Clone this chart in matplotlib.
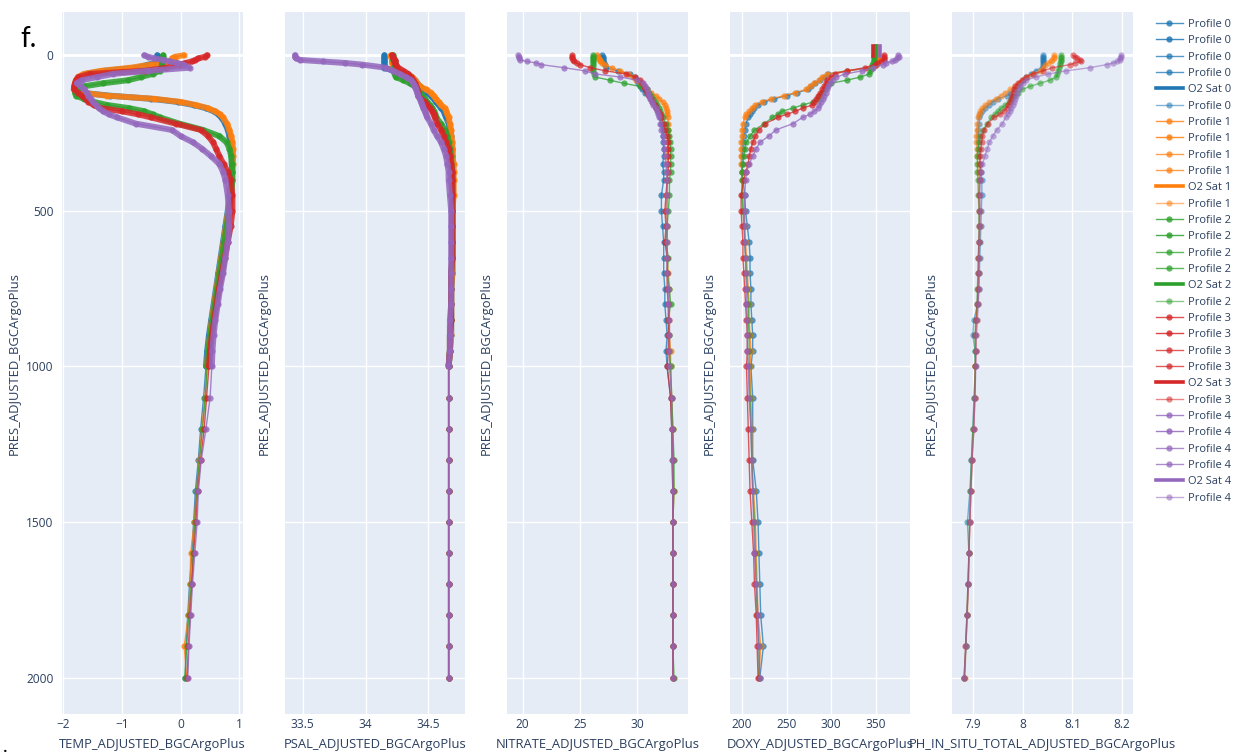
import numpy as np
import matplotlib.pyplot as plt

plt.rcParams['font.family'] = ['Open Sans', 'DejaVu Sans']

# pressure levels (dbar) shared by the five float profiles
pres = [0, 5, 10, 15, 20, 25, 30, 40, 50, 60, 70, 80, 90, 100, 110, 120, 130, 140, 150, 160, 170, 180, 190, 200,
        220, 240, 260, 280, 300, 325, 350, 375, 400,
        450, 500, 550, 600, 650, 700, 750, 800, 850, 900, 950, 1000,
        1100, 1200, 1300, 1400, 1500, 1600, 1700, 1800, 1900, 2000]

# temperature
temp0 = [-0.40, -0.37, -0.37, -0.37, -0.38, -0.45, -0.55, -0.75, -1.30, -1.62, -1.72, -1.76, -1.78, -1.80, -1.80, -1.72, -1.20, -0.50, -0.05, 0.22, 0.43, 0.56, 0.64, 0.69,
         0.76, 0.80, 0.83, 0.85, 0.86, 0.87, 0.87, 0.87, 0.86,
         0.84, 0.80, 0.76, 0.72, 0.68, 0.64, 0.60, 0.56, 0.52, 0.48, 0.45, 0.43,
         0.39, 0.34, 0.30, 0.25, 0.22, 0.19, 0.15, 0.12, 0.09, 0.08]
temp1 = [0.05, -0.10, -0.15, -0.10, -0.20, -0.35, -0.50, -0.85, -1.35, -1.65, -1.75, -1.78, -1.80, -1.81, -1.80, -1.70, -1.25, -0.45, 0.00, 0.26, 0.46, 0.59, 0.67, 0.72,
         0.79, 0.83, 0.86, 0.88, 0.89, 0.89, 0.89, 0.88, 0.87,
         0.85, 0.81, 0.77, 0.73, 0.69, 0.65, 0.61, 0.57, 0.53, 0.50, 0.47, 0.45,
         0.41, 0.36, 0.31, 0.27, 0.23, 0.17, 0.16, 0.13, 0.06, 0.10]
temp2 = [-0.30, -0.30, -0.30, -0.30, -0.31, -0.32, -0.32, -0.33, -0.36, -0.48, -0.68, -0.89, -1.32, -1.65, -1.77, -1.80, -1.78, -1.65, -1.48, -1.25, -0.88, -0.62, -0.48, -0.35,
         -0.02, 0.38, 0.66, 0.78, 0.83, 0.86, 0.87, 0.88, 0.88,
         0.86, 0.82, 0.78, 0.74, 0.70, 0.66, 0.62, 0.58, 0.54, 0.50, 0.47, 0.45,
         0.42, 0.37, 0.32, 0.27, 0.24, 0.21, 0.18, 0.14, 0.10, 0.07]
temp3 = [0.45, 0.41, 0.30, 0.25, 0.19, 0.08, -0.02, -0.25, -0.60, -1.55, -1.74, -1.78, -1.80, -1.81, -1.82, -1.75, -1.68, -1.62, -1.57, -1.48, -1.36, -1.00, -0.72, -0.50,
         -0.08, 0.34, 0.47, 0.55, 0.60, 0.66, 0.73, 0.80, 0.85,
         0.88, 0.88, 0.85, 0.80, 0.75, 0.70, 0.65, 0.61, 0.57, 0.53, 0.50, 0.48,
         0.44, 0.40, 0.34, 0.29, 0.26, 0.22, 0.19, 0.16, 0.13, 0.11]
temp4 = [-0.62, -0.55, -0.45, -0.30, -0.18, -0.06, 0.05, 0.15, -0.55, -1.15, -1.42, -1.68, -1.77, -1.70, -1.64, -1.60, -1.57, -1.53, -1.49, -1.44, -1.39, -1.32, -1.22, -1.08,
         -0.76, -0.15, 0.00, 0.21, 0.36, 0.52, 0.66, 0.72, 0.76,
         0.80, 0.82, 0.82, 0.80, 0.76, 0.72, 0.67, 0.63, 0.59, 0.56, 0.54, 0.53,
         0.50, 0.43, 0.35, 0.30, 0.28, 0.24, 0.20, 0.17, 0.14, 0.12]

# salinity
psal0 = [34.15, 34.15, 34.15, 34.15, 34.15, 34.15, 34.15, 34.15, 34.22, 34.33, 34.37, 34.39, 34.41, 34.43, 34.46, 34.49, 34.52, 34.54, 34.56, 34.58, 34.60, 34.62, 34.63, 34.64,
         34.66, 34.67, 34.68, 34.68, 34.69, 34.69, 34.69, 34.69, 34.69,
         34.69, 34.69, 34.69, 34.69, 34.69, 34.69, 34.68, 34.68, 34.68, 34.68, 34.67, 34.66,
         34.66, 34.66, 34.66, 34.66, 34.66, 34.66, 34.66, 34.66, 34.66, 34.66]
psal1 = [34.20, 34.20, 34.21, 34.21, 34.21, 34.21, 34.22, 34.22, 34.24, 34.33, 34.37, 34.39, 34.41, 34.43, 34.48, 34.52, 34.54, 34.56, 34.58, 34.60, 34.63, 34.64, 34.65, 34.66,
         34.67, 34.68, 34.68, 34.69, 34.69, 34.69, 34.70, 34.70, 34.70,
         34.70, 34.69, 34.69, 34.69, 34.69, 34.69, 34.68, 34.68, 34.68, 34.68, 34.67, 34.66,
         34.66, 34.66, 34.66, 34.66, 34.66, 34.66, 34.66, 34.66, 34.66, 34.66]
psal2 = [34.22, 34.22, 34.22, 34.22, 34.23, 34.23, 34.23, 34.23, 34.23, 34.23, 34.24, 34.30, 34.35, 34.39, 34.41, 34.43, 34.45, 34.47, 34.49, 34.51, 34.53, 34.54, 34.55, 34.56,
         34.60, 34.63, 34.65, 34.66, 34.67, 34.68, 34.68, 34.69, 34.69,
         34.69, 34.69, 34.69, 34.69, 34.69, 34.68, 34.68, 34.68, 34.68, 34.67, 34.67, 34.66,
         34.66, 34.66, 34.66, 34.66, 34.66, 34.66, 34.66, 34.66, 34.66, 34.66]
psal3 = [34.21, 34.22, 34.22, 34.23, 34.23, 34.23, 34.24, 34.26, 34.30, 34.34, 34.36, 34.38, 34.39, 34.40, 34.41, 34.42, 34.42, 34.44, 34.47, 34.49, 34.51, 34.53, 34.54, 34.55,
         34.57, 34.60, 34.62, 34.64, 34.66, 34.67, 34.68, 34.69, 34.69,
         34.69, 34.69, 34.69, 34.69, 34.69, 34.68, 34.68, 34.68, 34.68, 34.67, 34.67, 34.66,
         34.66, 34.66, 34.66, 34.66, 34.66, 34.66, 34.66, 34.66, 34.66, 34.66]
psal4 = [33.44, 33.44, 33.45, 33.48, 33.66, 33.84, 33.97, 34.16, 34.22, 34.27, 34.32, 34.36, 34.38, 34.39, 34.40, 34.41, 34.42, 34.43, 34.44, 34.45, 34.46, 34.47, 34.48, 34.49,
         34.52, 34.54, 34.57, 34.60, 34.62, 34.64, 34.65, 34.66, 34.66,
         34.67, 34.68, 34.68, 34.68, 34.68, 34.68, 34.68, 34.68, 34.67, 34.67, 34.67, 34.66,
         34.66, 34.66, 34.66, 34.66, 34.66, 34.66, 34.66, 34.66, 34.66, 34.66]

# nitrate
nitrate0 = [26.9, 27.0, 27.0, 27.0, 27.0, 27.1, 27.2, 27.3, 28.3, 29.4, 29.8, 30.0, 30.1, 30.2, 30.4, 30.7, 31.0, 31.2, 31.4, 31.5, 31.6, 31.8, 31.9, 32.0,
            32.1, 32.2, 32.2, 32.25, 32.3, 32.3, 32.2, 32.3, 32.3,
            32.1, 32.1, 32.2, 32.3, 32.3, 32.3, 32.4, 32.4, 32.5, 32.6, 32.5, 32.6,
            32.9, 33.0, 33.0, 33.1, 33.1, 33.1, 33.1, 33.1, 33.1, 33.1]
nitrate1 = [26.5, 26.6, 26.6, 26.7, 26.7, 26.9, 27.2, 27.8, 28.5, 29.2, 29.6, 29.9, 30.2, 30.5, 30.8, 31.2, 31.6, 31.9, 32.2, 32.4, 32.5, 32.55, 32.6, 32.65,
            32.7, 32.7, 32.7, 32.7, 32.6, 32.6, 32.6, 32.6, 32.6,
            32.6, 32.5, 32.6, 32.6, 32.6, 32.7, 32.8, 32.8, 32.8, 32.8, 32.9, 32.9,
            33.0, 33.1, 33.1, 33.2, 33.1, 33.1, 33.1, 33.1, 33.1, 33.1]
nitrate2 = [26.1, 26.1, 26.1, 26.1, 26.1, 26.1, 26.1, 26.1, 26.1, 26.2, 26.3, 27.6, 28.8, 30.2, 30.8, 31.0, 31.2, 31.4, 31.5, 31.7, 31.9, 32.0, 32.1, 32.2,
            32.5, 32.7, 32.8, 32.85, 32.9, 32.9, 32.9, 32.9, 32.8,
            32.8, 32.7, 32.6, 32.5, 32.7, 32.6, 32.8, 32.9, 32.7, 32.8, 32.8, 32.9,
            33.0, 33.1, 33.2, 33.2, 33.1, 33.1, 33.1, 33.1, 33.1, 33.2]
nitrate3 = [24.3, 24.3, 24.3, 24.4, 24.5, 24.7, 25.0, 25.9, 27.2, 29.0, 29.8, 30.2, 30.4, 30.6, 30.7, 30.8, 31.0, 31.2, 31.3, 31.5, 31.6, 31.8, 32.0, 32.1,
            32.3, 32.4, 32.6, 32.7, 32.7, 32.7, 32.7, 32.7, 32.6,
            32.5, 32.4, 32.5, 32.4, 32.6, 32.6, 32.6, 32.7, 32.7, 32.7, 32.7, 32.6,
            32.9, 33.0, 33.1, 33.1, 33.1, 33.1, 33.1, 33.1, 33.1, 33.1]
nitrate4 = [19.6, 19.7, 19.7, 19.8, 20.4, 21.2, 21.6, 23.6, 25.4, 26.3, 28.5, 30.0, 30.5, 30.7, 30.8, 30.9, 31.0, 31.1, 31.25, 31.4, 31.6, 31.7, 31.8, 31.9,
            32.0, 32.1, 32.2, 32.3, 32.35, 32.4, 32.5, 32.55, 32.6,
            32.6, 32.6, 32.6, 32.6, 32.6, 32.6, 32.7, 32.7, 32.8, 32.8, 32.8, 32.8,
            33.0, 33.0, 33.1, 33.1, 33.1, 33.1, 33.1, 33.1, 33.1, 33.1]

# dissolved oxygen
doxy0 = [350, 350, 351, 352, 352, 352, 351, 346, 318, 297, 292, 288, 282, 278, 274, 262, 250, 236, 225, 218, 214, 211, 209, 207,
         204.5, 203, 202, 201, 201, 200, 200, 200, 201,
         203, 204, 206, 208, 209, 209, 210, 210, 211, 212, 212, 210,
         212, 212, 212, 216, 218, 219, 220, 221, 224, 220]
doxy1 = [352, 352, 353, 353, 353, 352, 350, 345, 318, 296, 290, 287, 281, 276, 272, 260, 247, 233, 222, 215, 211, 208, 205, 203,
         201, 200, 200, 199, 199, 199, 199, 200, 200,
         201, 202, 203, 204, 205, 206, 207, 208, 208, 209, 210, 209,
         210, 211, 211, 213, 215, 216, 217, 218, 221, 219]
doxy2 = [348, 348, 348, 348, 348, 347, 346, 345, 344, 343, 333, 318, 300, 296, 293, 290, 287, 285, 280, 268, 257, 245, 240, 234,
         225, 214, 209, 205, 203, 202, 201, 200, 200,
         200, 201, 202, 203, 204, 205, 206, 207, 207, 208, 208, 208,
         209, 210, 211, 212, 214, 215, 216, 217, 219, 219]
doxy3 = [359, 360, 360, 359, 356, 352, 349, 338, 318, 304, 300, 296, 294, 292, 290, 288, 285, 283, 281, 279, 268, 260, 250, 240,
         226, 219, 215, 212, 210, 208, 207, 204, 202,
         199, 199, 200, 201, 201, 202, 203, 204, 205, 206, 206, 205,
         206, 207, 208, 209, 211, 213, 214, 216, 217, 218]
doxy4 = [375, 376, 374, 372, 368, 362, 358, 347, 335, 316, 306, 302, 299, 297, 295, 294, 292, 291, 289, 287, 285, 281, 276, 268,
         257, 238, 230, 220, 216, 212, 208, 205, 204,
         203, 203, 203, 203, 204, 204, 205, 205, 206, 206, 206, 207,
         208, 210, 211, 212, 213, 214, 216, 218, 219, 220]

# oxygen saturation marks at the surface
o2sat = [351, 352, 350, 347.5, 354.5]
o2sat_pres = [-30, 2]

# pH
ph0 = [8.041, 8.041, 8.041, 8.041, 8.041, 8.040, 8.040, 8.038, 8.026, 8.016, 8.007, 8.001, 7.994, 7.988, 7.982, 7.975, 7.968, 7.950, 7.940, 7.932, 7.924, 7.918, 7.915, 7.913,
       7.912, 7.911, 7.911, 7.911, 7.912, 7.913, 7.914, 7.916, 7.918,
       7.918, 7.917, 7.916, 7.915, 7.914, 7.913, 7.912, 7.910, 7.902, 7.900, 7.904, 7.905,
       7.902, 7.900, 7.897, 7.894, 7.889, 7.892, 7.891, 7.888, 7.886, 7.883]
ph1 = [8.064, 8.064, 8.063, 8.060, 8.058, 8.052, 8.046, 8.040, 8.035, 8.020, 8.008, 8.000, 7.992, 7.985, 7.975, 7.965, 7.956, 7.946, 7.932, 7.924, 7.919, 7.915, 7.912, 7.910,
       7.909, 7.908, 7.907, 7.907, 7.908, 7.909, 7.910, 7.911, 7.912,
       7.913, 7.914, 7.914, 7.913, 7.912, 7.912, 7.911, 7.910, 7.908, 7.907, 7.906, 7.905,
       7.904, 7.901, 7.898, 7.896, 7.894, 7.892, 7.891, 7.889, 7.886, 7.884]
ph2 = [8.078, 8.078, 8.078, 8.078, 8.077, 8.076, 8.075, 8.073, 8.071, 8.070, 8.068, 8.055, 8.035, 8.015, 7.999, 7.990, 7.982, 7.977, 7.972, 7.965, 7.957, 7.951, 7.944, 7.937,
       7.928, 7.921, 7.915, 7.912, 7.910, 7.909, 7.909, 7.909, 7.910,
       7.911, 7.912, 7.912, 7.912, 7.911, 7.910, 7.909, 7.908, 7.906, 7.904, 7.904, 7.905,
       7.903, 7.900, 7.897, 7.895, 7.893, 7.892, 7.890, 7.888, 7.886, 7.882]
ph3 = [8.101, 8.105, 8.110, 8.115, 8.118, 8.105, 8.096, 8.060, 8.042, 8.020, 8.007, 7.998, 7.990, 7.985, 7.983, 7.980, 7.978, 7.976, 7.974, 7.971, 7.968, 7.962, 7.955, 7.942,
       7.930, 7.923, 7.919, 7.918, 7.916, 7.915, 7.915, 7.914, 7.914,
       7.912, 7.913, 7.913, 7.912, 7.911, 7.911, 7.910, 7.909, 7.907, 7.905, 7.906, 7.905,
       7.904, 7.902, 7.899, 7.896, 7.894, 7.892, 7.890, 7.888, 7.885, 7.883]
ph4 = [8.197, 8.197, 8.196, 8.195, 8.190, 8.182, 8.169, 8.135, 8.088, 8.052, 8.027, 8.007, 8.000, 7.995, 7.992, 7.989, 7.987, 7.984, 7.982, 7.980, 7.977, 7.975, 7.970, 7.966,
       7.959, 7.948, 7.940, 7.933, 7.929, 7.924, 7.919, 7.916, 7.915,
       7.914, 7.915, 7.914, 7.913, 7.912, 7.912, 7.912, 7.911, 7.909, 7.907, 7.906, 7.906,
       7.904, 7.902, 7.898, 7.896, 7.894, 7.892, 7.891, 7.888, 7.886, 7.882]

var_names = ['TEMP_ADJUSTED_BGCArgoPlus', 'PSAL_ADJUSTED_BGCArgoPlus', 'NITRATE_ADJUSTED_BGCArgoPlus',
             'DOXY_ADJUSTED_BGCArgoPlus', 'PH_IN_SITU_TOTAL_ADJUSTED_BGCArgoPlus']
xticks = [[-2, -1, 0, 1], [33.5, 34, 34.5], [20, 25, 30], [200, 250, 300, 350], [7.9, 8, 8.1, 8.2]]
xticklabels = [['\u22122', '\u22121', '0', '1'], ['33.5', '34', '34.5'], ['20', '25', '30'],
               ['200', '250', '300', '350'], ['7.9', '8', '8.1', '8.2']]
yticks = [0, 500, 1000, 1500, 2000]

temps = [temp0, temp1, temp2, temp3, temp4]
psals = [psal0, psal1, psal2, psal3, psal4]
nitrates = [nitrate0, nitrate1, nitrate2, nitrate3, nitrate4]
doxys = [doxy0, doxy1, doxy2, doxy3, doxy4]
phs = [ph0, ph1, ph2, ph3, ph4]

colors = ['#1f77b4', '#ff7f0e', '#2ca02c', '#d62728', '#9467bd']
ink = '#2a3f5f'

W, H = 1252, 753
fig = plt.figure(figsize=(W / 100, H / 100), dpi=100)
lefts = [62, 285, 507, 730, 952]
widths = [181, 180, 181, 180, 181]
ylabel_right = [21, 271, 493, 716, 938]   # right edge of the rotated y titles (px)
top, bottom = 12, 714
xlims = [(-2.02, 1.06), (33.36, 34.79), (18.63, 34.42), (186.5, 388.7), (7.858, 8.222)]

axes = []
for k in range(5):
    ax = fig.add_axes([lefts[k] / W, 1 - bottom / H, widths[k] / W, (bottom - top) / H])
    ax.set_facecolor('#E5ECF6')
    for s in ax.spines.values():
        s.set_visible(False)
    ax.set_xlim(*xlims[k])
    ax.set_ylim(2117, -139)
    ax.set_xticks(xticks[k])
    ax.set_xticklabels(xticklabels[k])
    ax.set_yticks(yticks)
    ax.grid(True, color='white', lw=1)
    ax.set_axisbelow(True)
    ax.axhline(0, color='white', lw=2, zorder=1)
    ax.tick_params(length=0, labelsize=8.6, labelcolor=ink)
    ax.tick_params(axis='x', pad=3)
    ax.tick_params(axis='y', pad=6)
    if k > 0:
        ax.tick_params(labelleft=False)
    ax.set_xlabel(var_names[k], fontsize=9.4, color=ink)
    ax.xaxis.set_label_coords(0.5, -0.034)
    ax.set_ylabel('PRES_ADJUSTED_BGCArgoPlus', fontsize=9.4, color=ink)
    ax.yaxis.set_label_coords((ylabel_right[k] - lefts[k]) / widths[k], 0.5)
    axes.append(ax)

alphas = [0.8, 0.85, 0.75, 0.75, 0.55]
n_dense = pres.index(1000) + 1
handles = []
for i in range(5):
    c = colors[i]
    rows = []
    for k, data in enumerate([temps, psals, nitrates, doxys, phs]):
        ax = axes[k]
        x = data[i]
        if k < 2:
            # high-resolution CTD part shows as a thick band of overlapping markers
            ax.plot(x[:n_dense], pres[:n_dense], color=c, lw=4.3, alpha=0.85,
                    solid_capstyle='round', solid_joinstyle='round', zorder=2)
        h, = ax.plot(x, pres, '-o', color=c, lw=1, ms=4.5, mew=0, alpha=alphas[k],
                     label=f'Profile {i}', zorder=2)
        rows.append(h)
    o2, = axes[3].plot([o2sat[i], o2sat[i]], o2sat_pres, color=c, lw=2.6, label=f'O2 Sat {i}', zorder=3)
    handles += rows[:4] + [o2, rows[4]]

fig.legend(handles=handles, labels=[h.get_label() for h in handles], loc='upper left',
           bbox_to_anchor=(1156 / W, 1 - 19 / H), frameon=False, fontsize=8,
           handlelength=2.4, handletextpad=0.45, labelspacing=0.48,
           borderaxespad=0, borderpad=0, labelcolor=ink)

fig.text(20 / W, 1 - 47 / H, 'f.', fontsize=20, family=['Lato', 'DejaVu Sans'], color='black')
fig.text(3 / W, 1 - 752 / H, '.', fontsize=14, family=['Lato', 'DejaVu Sans'], color='black')

fig.savefig('out.png', dpi=100)
